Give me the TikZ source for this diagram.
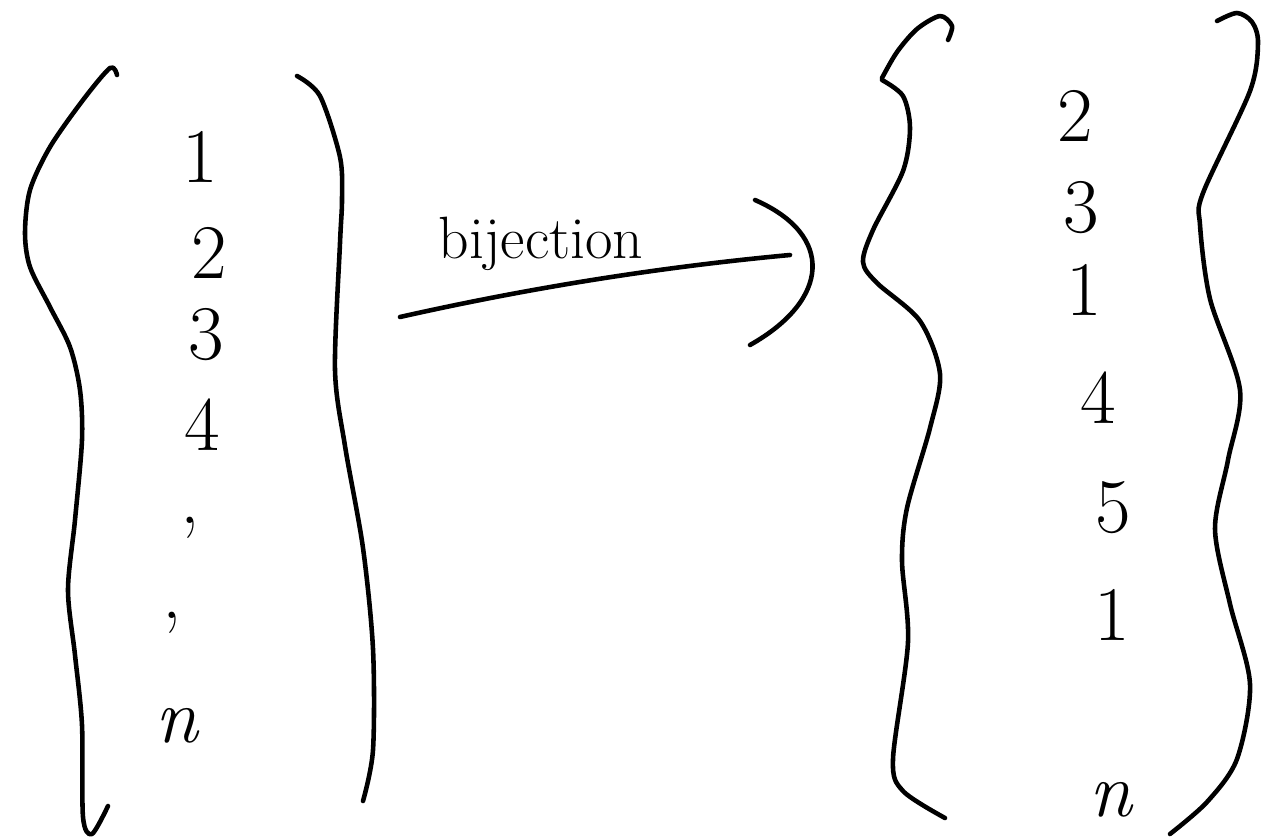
\documentclass[tikz,border=0pt]{standalone}
\usetikzlibrary{positioning, arrows.meta}
\usepackage{amsmath}

\begin{document}
\begin{tikzpicture}[
    % one unit = one pixel of the sketch, y pointing down
    x=0.02cm, y=-0.02cm,
    pen/.style={line width=2.6pt, line cap=round, line join=round},
    num/.style={inner sep=0pt, font=\fontsize{44}{50}\selectfont},
    lbl/.style={inner sep=1pt, font=\fontsize{34}{40}\selectfont}
]
    \useasboundingbox (0,0) rectangle (1264,837);

    % left set
    \node[num] (l1) at (200,157) {1};
    \node[num] (l2) at (209,253) {2};
    \node[num] (l3) at (206,335) {3};
    \node[num] (l4) at (202,425) {4};
    \node[num] (l5) at (190,528) {,};
    \node[num] (l6) at (172,623) {,};
    \node[num] (l7) at (178,726) {\textit{n}};

    \draw[pen] plot[smooth] coordinates {(117,75) (110,68) (83,100) (50,147) (30,190) (25,233)
        (30,267) (50,307) (70,347) (80,390) (82,440) (75,520) (68,590) (75,655) (82,725)
        (83,817) (92,834) (108,806)};
    \draw[pen] plot[smooth] coordinates {(297,76) (320,96) (340,157) (342,200) (340,243)
        (335,370) (345,446) (363,548) (373,649) (373,750) (363,801)};

    % right set
    \node[num] (r1) at (1075,116) {2};
    \node[num] (r2) at (1081,208) {3};
    \node[num] (r3) at (1084,290) {1};
    \node[num] (r4) at (1098,398) {4};
    \node[num] (r5) at (1113,508) {5};
    \node[num] (r6) at (1112,615) {1};
    \node[num] (r7) at (1112,800) {\textit{n}};

    \draw[pen] plot[smooth] coordinates {(948,40) (952,26) (940,16) (917,29) (897,52) (882,78)};
    \draw[pen] plot[smooth] coordinates {(882,80) (903,96) (910,128) (903,171) (873,230) (863,262)
        (877,283) (920,321) (940,374) (930,428) (907,508) (902,561) (908,642) (893,759) (903,791) (945,818)};
    \draw[pen] plot[smooth] coordinates {(1217,21) (1237,13) (1252,22) (1258,43) (1250,91) (1203,193)
        (1200,225) (1210,299) (1240,390) (1228,460) (1215,529) (1230,604) (1250,684) (1237,759)
        (1207,802) (1170,834)};

    % the map
    \coordinate (src) at (400,317);
    \coordinate (dst) at (790,255);
    \coordinate (hdtop) at (755,200);
    \coordinate (hdbot) at (750,345);

    \draw[pen] (src) .. controls (520,290) and (650,268) .. (dst)
        node[lbl, pos=0.38, above, yshift=8pt] (bij) {bijection};
    \draw[pen] (hdtop) .. controls (835,235) and (830,300) .. (hdbot);
\end{tikzpicture}
\end{document}
